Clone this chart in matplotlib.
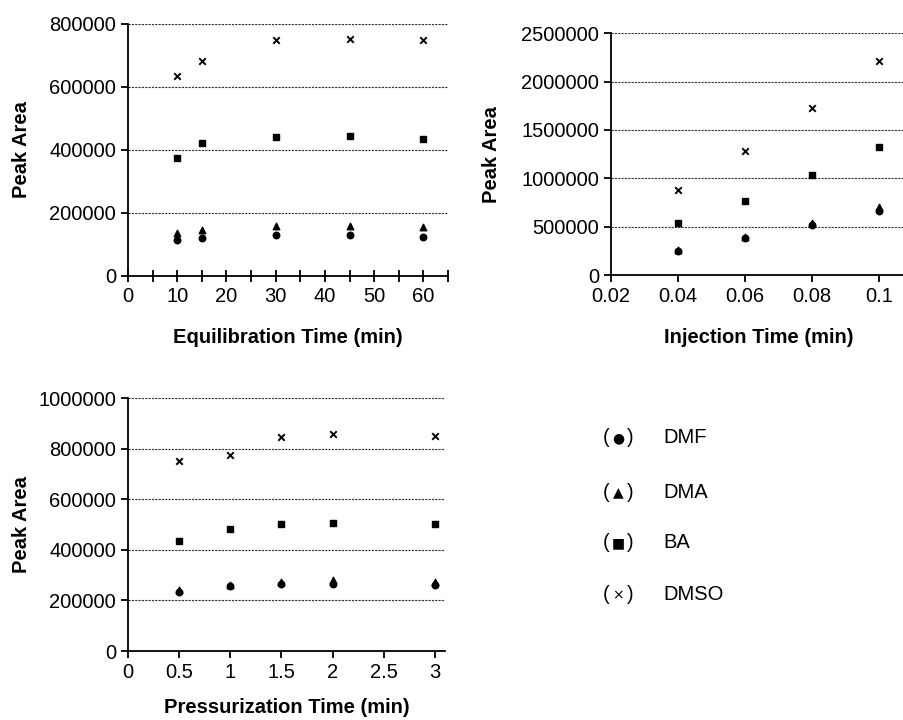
import matplotlib
matplotlib.use('Agg')
import matplotlib.pyplot as plt
from matplotlib.ticker import MultipleLocator

plt.rcParams['font.family'] = ['Liberation Sans', 'DejaVu Sans']

# equilibration time study
eq_time = [10, 15, 30, 45, 60]
eq_dmf = [114000, 119500, 130000, 129000, 123000]
eq_dma = [136000, 147000, 160000, 158000, 154000]
eq_ba = [375700, 421000, 442000, 443000, 436000]
eq_dmso = [635000, 682500, 748000, 752000, 750000]

# injection time study
inj_time = [0.04, 0.06, 0.08, 0.1]
inj_dmf = [250000, 385000, 515000, 660000]
inj_dma = [255000, 395000, 535000, 700000]
inj_ba = [534000, 765000, 1034000, 1324000]
inj_dmso = [883000, 1283000, 1731000, 2210000]

# pressurization time study
pr_time = [0.5, 1, 1.5, 2, 3]
pr_dmf = [235000, 256000, 264000, 267000, 263000]
pr_dma = [240000, 262000, 275000, 280000, 275000]
pr_ba = [437000, 483000, 503000, 508000, 502000]
pr_dmso = [750000, 775000, 848000, 857000, 849000]

names = ['DMF', 'DMA', 'BA', 'DMSO']
symbols = ['\u25cf', '\u25b2', '\u25a0', '\u00d7']

fig = plt.figure(figsize=(9.04, 7.2), dpi=100)

def draw(ax, x, series, xlim, ylim, xstep, ystep, xlabel, pad=16):
    ax.scatter(x, series[0], marker='o', s=22, color='black', zorder=3)
    ax.scatter(x, series[1], marker='^', s=22, color='black', zorder=3)
    ax.scatter(x, series[2], marker='s', s=20, color='black', zorder=3)
    ax.scatter(x, series[3], marker='x', s=22, color='black', linewidths=1.4, zorder=3)
    ax.set_xlim(*xlim)
    ax.set_ylim(*ylim)
    ax.xaxis.set_major_locator(MultipleLocator(xstep))
    ax.yaxis.set_major_locator(MultipleLocator(ystep))
    for v in range(1, int(round(ylim[1] / ystep)) + 1):
        ax.axhline(v * ystep, color='#333333', linestyle=(0, (2, 1)), linewidth=0.8, zorder=1)
    for s in ['top', 'right']:
        ax.spines[s].set_visible(False)
    for s in ['left', 'bottom']:
        ax.spines[s].set_linewidth(1.3)
    ax.tick_params(labelsize=14.5, width=1.3, length=5, direction='out')
    ax.set_ylabel('Peak Area', fontsize=14.5, fontweight='bold')
    ax.set_xlabel(xlabel, fontsize=14.5, fontweight='bold', labelpad=pad)
    ax.xaxis.set_major_formatter(plt.FuncFormatter(lambda v, p: '%g' % v))
    ax.yaxis.set_major_formatter(plt.FuncFormatter(lambda v, p: '%d' % round(v)))

ax1 = fig.add_axes([0.1416, 0.6167, 0.354, 0.35])
draw(ax1, eq_time, [eq_dmf, eq_dma, eq_ba, eq_dmso], (0, 65), (0, 800000), 10, 200000,
     'Equilibration Time (min)')
ax1.xaxis.set_minor_locator(MultipleLocator(5))
ax1.tick_params(axis='x', which='both', direction='inout', length=9, width=1.3)
ax1.yaxis.set_label_coords(-0.303, 0.5)

ax2 = fig.add_axes([0.6759, 0.618, 0.326, 0.336])
draw(ax2, inj_time, [inj_dmf, inj_dma, inj_ba, inj_dmso], (0.02, 0.108), (0, 2500000), 0.02, 500000,
     'Injection Time (min)')
ax2.yaxis.set_label_coords(-0.373, 0.5)

ax3 = fig.add_axes([0.1416, 0.0958, 0.3507, 0.351])
draw(ax3, pr_time, [pr_dmf, pr_dma, pr_ba, pr_dmso], (0, 3.1), (0, 1000000), 0.5, 200000,
     'Pressurization Time (min)', pad=12)
ax3.yaxis.set_label_coords(-0.306, 0.5)

# legend as text block
ys = [438, 492, 543, 595]
for sym, name, y in zip(symbols, names, ys):
    yy = 1 - y / 720
    fig.text(603 / 904, yy, '(', fontsize=14.5, va='center', ha='left')
    fig.text(618 / 904, yy, sym, fontsize=10, va='center', ha='center', family=['DejaVu Sans'])
    fig.text(627 / 904, yy, ')', fontsize=14.5, va='center', ha='left')
    fig.text(663 / 904, yy, name, fontsize=14.5, va='center', ha='left')

fig.savefig('out.png', dpi=100)
